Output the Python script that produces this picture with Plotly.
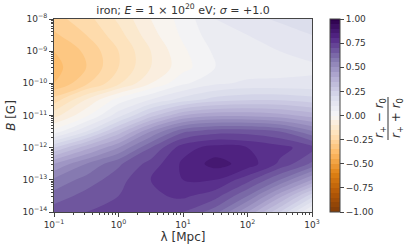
import numpy as np
import plotly.graph_objects as go

# log10 of lambda [Mpc] grid columns and log10 of B [G] grid rows
log_lambda = [-1.0, -0.5, 0.0, 0.5, 1.0, 1.5, 2.0, 2.5, 3.0]
log_B = [-14.0, -13.5, -13.0, -12.5, -12.0, -11.5, -11.0, -10.5, -10.0, -9.5, -9.0, -8.5, -8.0]

# asymmetry (r+ - r0)/(r+ + r0), rows follow log_B, columns follow log_lambda
asym = [
    [0.68, 0.70, 0.71, 0.71, 0.70, 0.62, 0.45, 0.25, 0.03],
    [0.62, 0.67, 0.70, 0.74, 0.76, 0.72, 0.60, 0.42, 0.22],
    [0.56, 0.62, 0.68, 0.75, 0.80, 0.80, 0.72, 0.60, 0.45],
    [0.45, 0.55, 0.64, 0.72, 0.81, 0.87, 0.83, 0.74, 0.64],
    [0.25, 0.38, 0.50, 0.65, 0.78, 0.82, 0.80, 0.77, 0.72],
    [0.02, 0.15, 0.32, 0.50, 0.64, 0.68, 0.68, 0.65, 0.56],
    [-0.12, -0.01, 0.13, 0.28, 0.40, 0.44, 0.44, 0.42, 0.38],
    [-0.23, -0.10, 0.02, 0.10, 0.17, 0.22, 0.24, 0.24, 0.22],
    [-0.35, -0.26, -0.16, -0.05, 0.04, 0.09, 0.11, 0.11, 0.11],
    [-0.37, -0.30, -0.20, -0.10, -0.02, 0.05, 0.07, 0.08, 0.09],
    [-0.35, -0.29, -0.20, -0.10, -0.01, 0.06, 0.08, 0.10, 0.12],
    [-0.31, -0.25, -0.17, -0.07, 0.01, 0.08, 0.10, 0.12, 0.15],
    [-0.27, -0.22, -0.14, -0.05, 0.02, 0.10, 0.13, 0.16, 0.20],
]

x_ticks = [-1, 0, 1, 2, 3]
y_ticks = [-14, -13, -12, -11, -10, -9, -8]
cb_ticks = [-1.0, -0.75, -0.5, -0.25, 0.0, 0.25, 0.5, 0.75, 1.0]

W, H = 411, 251
L, R, T, B = 54, 312, 19, 212


def sup_label(e):
    s = str(e).replace("-", "\u2212")
    return "10<sup>" + s + "</sup>"


def minor_vals(lo, hi):
    out = []
    for d in range(lo, hi):
        for m in range(2, 10):
            out.append(m * 10.0 ** d)
    return out


lam = [10.0 ** v for v in log_lambda]
bfield = [10.0 ** v for v in log_B]

fig = go.Figure()
fig.add_trace(go.Contour(
    x=lam, y=bfield, z=asym,
    colorscale="PuOr", zmin=-1, zmax=1,
    contours=dict(start=-1, end=1, size=0.05, coloring="fill"),
    line=dict(width=0, smoothing=1.0),
    hoverinfo="skip",
    colorbar=dict(
        x=(330 - L) / (R - L), xanchor="left",
        y=0.5, yanchor="middle", len=1.0, lenmode="fraction",
        thickness=10, thicknessmode="pixels",
        outlinecolor="#444", outlinewidth=1,
        xpad=0, ypad=0,
        tickvals=cb_ticks,
        ticktext=[("%.2f" % v).replace("-", "\u2212") for v in cb_ticks],
        ticks="outside", ticklen=4, tickcolor="#444",
        tickfont=dict(family="DejaVu Sans", size=9, color="#333"),
    ),
    showscale=True,
))

fig.update_xaxes(
    type="log", range=[-1, 3],
    tickvals=[10.0 ** e for e in x_ticks], ticktext=[sup_label(e) for e in x_ticks],
    ticks="outside", ticklen=4, tickcolor="#444",
    minor=dict(tickvals=minor_vals(-1, 3), ticks="outside", ticklen=2, tickcolor="#444"),
    showline=True, linecolor="#444", linewidth=1, mirror=True,
    showgrid=False, zeroline=False,
    tickfont=dict(family="DejaVu Sans", size=9, color="#333"),
    title=dict(text="λ [Mpc]", font=dict(family="DejaVu Sans", size=12, color="#333"), standoff=3),
)
fig.update_yaxes(
    type="log", range=[-14, -8],
    tickvals=[10.0 ** e for e in y_ticks], ticktext=[sup_label(e) for e in y_ticks],
    ticks="outside", ticklen=4, tickcolor="#444",
    minor=dict(tickvals=minor_vals(-14, -8), ticks="outside", ticklen=2, tickcolor="#444"),
    showline=True, linecolor="#444", linewidth=1, mirror=True,
    showgrid=False, zeroline=False,
    tickfont=dict(family="DejaVu Sans", size=9, color="#333"),
    title=dict(text="<i>B</i> [G]", font=dict(family="DejaVu Sans", size=12, color="#333"), standoff=4),
)

fig.update_layout(
    width=W, height=H,
    margin=dict(l=L, r=W - R, t=T, b=H - B, autoexpand=False),
    paper_bgcolor="white", plot_bgcolor="white",
    title=dict(
        text="iron; <i>E</i> = 1 × 10<sup>20</sup> eV; <i>σ</i> = +1.0",
        x=(L + R) / 2 / W, xanchor="center", y=1 - 10 / H, yanchor="middle",
        font=dict(family="DejaVu Sans", size=11, color="#333"),
    ),
    showlegend=False,
)

# colorbar label as a rotated fraction
fig.add_annotation(
    xref="paper", yref="paper", x=(380 - L) / (R - L), y=(B - 118) / (B - T),
    text="<i>r</i><sub>+</sub> − <i>r</i><sub>0</sub>", textangle=-90, showarrow=False,
    font=dict(family="DejaVu Sans", size=12, color="#333"), xanchor="center", yanchor="middle",
)
fig.add_annotation(
    xref="paper", yref="paper", x=(397 - L) / (R - L), y=(B - 118) / (B - T),
    text="<i>r</i><sub>+</sub> + <i>r</i><sub>0</sub>", textangle=-90, showarrow=False,
    font=dict(family="DejaVu Sans", size=12, color="#333"), xanchor="center", yanchor="middle",
)
fig.add_shape(
    type="line", xref="paper", yref="paper",
    x0=(388 - L) / (R - L), x1=(388 - L) / (R - L),
    y0=(B - 97) / (B - T), y1=(B - 140) / (B - T),
    line=dict(color="#333", width=1),
)

fig.write_html(
    "out.html",
    config={"displayModeBar": False},
    post_script="document.body.style.margin='0';document.body.style.padding='0';",
)
